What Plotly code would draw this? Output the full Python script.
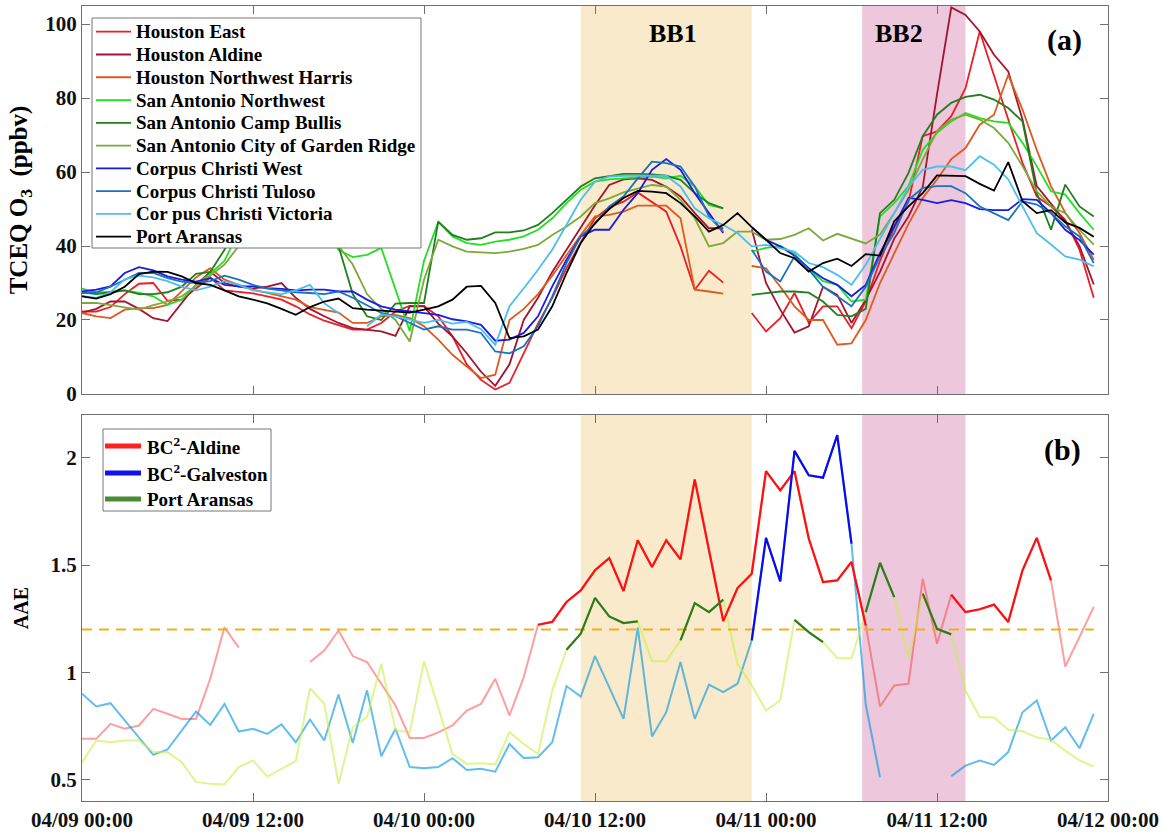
import pandas as pd
import plotly.graph_objects as go

N = None
START = "2015-04-09 00:00"
times = pd.date_range(START, periods=72, freq="h")
x_range = ["2015-04-09 00:00", "2015-04-12 00:00"]

# ---------------- panel (a): TCEQ O3 (ppbv), hourly ----------------
houston_east = [22.3, 22.3, 23.5, 27, 29.8, 30, 25.2, 25.5, 28.5, 31.5,
                28, 27.5, 27.2, 26.4, 25.5, 23.7, 21.5, 19.8, 18.5, 17.4,
                17.4, 19.2, 22.3, 23.8, 23.8, 21, 15.6, 8, 3.8, 1.2,
                3, 11, 19, 26, 34, 41, 47.5, 50.5, 52, 54.5,
                52, 49.3, 39.9, 28.2, 33.3, 30.1, N, 21.9, 16.9, 20.5,
                27.3, 19.2, 23.7, 23.7, 17.8, 25, 36, 45, 52, 69.7,
                71, 75.1, 82.7, 98, 85.9, 74.2, 62.5, 53.4, 50.7, 47.1,
                39, 26]
houston_aldine = [22, 23, 25, 25, 23, 20.5, 19.7, 24.5, 29.5, 33,
                  30, 29, 28.5, 29, 30, 26, 23, 21, 19.2, 17.8,
                  17.4, 16.9, 15.7, 23.7, 23.7, 19, 15.5, 11, 6, 2.2,
                  8, 20, 26, 33, 39, 45, 51, 56.5, 58, 58.3,
                  57.9, 56, 53.4, 48.9, 44.8, 44.8, N, 44.5, 30, 22.8,
                  16.6, 18.3, 29, 26.8, 19.2, 25.5, 33, 42, 48, 56,
                  81, 104.5, 102.5, 98, 91.7, 87.2, 74.2, 56.2, 51.6, 46.7,
                  40, 29.6]
houston_nw_harris = [21.9, 21, 20.5, 22.8, 23.2, 23.2, 24.1, 27.7, 31.5, 34,
                     30.9, 29.5, 28.2, 27.3, 26.4, 25.5, 23.5, 22.8, 22, 19.2,
                     19.2, 21, 21.4, 20.5, 18.3, 14.7, 10.6, 7.4, 4.3, 5.2,
                     20, 23, 27, 32, 37.5, 43, 48, 48.4, 49.3, 50.9,
                     50.9, 50.9, 47.5, 28.2, 27.7, 27.1, N, 34.6, 34, 29,
                     23.7, 20, 20, 13.3, 13.7, 20, 30, 38, 46, 53,
                     58, 63.5, 66.5, 72.8, 75.5, 86.3, 76.9, 66, 56.2, 49,
                     43.5, 36.3]
sa_northwest = [28.5, 27.5, 27.5, 28, 27.3, 26.4, 24.1, 25.5, 29.5, 32.5,
                36, 44, 50, 52, 52, 50, 48, 45, 39, 37,
                37.6, 39.5, 28, 17, 36, 46.5, 42.6, 40.8, 40.3, 41.2,
                41.7, 42.6, 44.4, 47.5, 51.6, 55.2, 57.4, 58, 58.3, 58.6,
                58.8, 58.3, 59, 56.1, 51.1, 50.2, N, 38.5, 39.5, 40,
                38, 33.6, 30.5, 29.5, 25, 25.5, 48, 51.6, 56.2, 66,
                70.6, 73.7, 76, 74.6, 73.7, 73.3, 67.9, 61.6, 54.8, 53.9,
                48.9, 44.4]
sa_camp_bullis = [27.5, 27, 27.5, 28, 27, 27, 27.5, 29, 32.5, 33,
                  39, 46, 50, 52, 52, 50, 48, 45, 40, 27,
                  21, 20, 24.4, 24.6, 24.6, 46.6, 43, 41.7, 42.1, 43.7,
                  43.7, 44.2, 45.7, 48.9, 52.5, 56.1, 58.3, 59, 59.5, 59.5,
                  59.4, 59, 57.9, 54.3, 51.6, 50.2, N, 26.8, 27.3, 27.7,
                  27.7, 27.4, 25, 21.4, 21, 23, 48.9, 52.5, 59.8, 69.7,
                  75.5, 78.7, 80.3, 80.9, 79.6, 77.3, 73.7, 54.3, 44.4, 56.6,
                  50.7, 48]
sa_garden_ridge = [24.6, 24.6, 24, 23.5, 22.8, 24, 25, 26.4, 29.1, 32,
                   35, 40, 45, 48, 48, 46, 44, 42, 40, 35,
                   27, 23, 20, 14.2, 30.9, 41.7, 39.9, 38.5, 38.2, 38.1,
                   38.5, 39.2, 40.3, 43, 45.3, 48, 51.6, 52.9, 54.5, 55.4,
                   56.5, 56.1, 52.5, 47.5, 39.9, 40.8, 43.9, 43.9, 41.7, 41.9,
                   43, 44.8, 41.5, 43.3, 42.1, 40.7, 43.1, 48.9, 55.2, 63.4,
                   71, 74.2, 75.5, 74.2, 71.9, 67.9, 61.6, 54.8, 50.7, 48.9,
                   44.4, 40.4]
cc_west = [27.7, 28.2, 29.1, 32.7, 34.3, 33.4, 31.8, 30.9, 30.4, 31.3,
           29.5, 29.1, 29.1, 28.6, 28.4, 28, 28.2, 28.2, 27.7, 27.7,
           25.5, 23.7, 22.8, 22.3, 21.9, 21.4, 20.2, 19.6, 18.7, 14.4,
           14.7, 16.5, 21, 29.1, 36.3, 42.6, 44.4, 44.4, 49.8, 54.3,
           60.6, 63.5, 60.6, 54.3, 48.9, 43.5, N, 45.1, 41.7, 39.9,
           37.4, 34, 31.3, 29.5, 26.4, 29.5, 38.1, 45.3, 53, 52.5,
           51.6, 52.4, 51.6, 50, 49.7, 49.7, 52.7, 52.5, 48.9, 44.4,
           41.6, 37.7]
cc_tuloso = [27.3, 27.5, 29, 30.9, 32.7, 32.7, 31.3, 30.4, 30, 30.5,
             32, 30.9, 29.5, 28.5, 28, 27.5, 27.3, 27, 27.7, 26,
             24, 21.9, 21, 19.2, 17.4, 18.3, 17.4, 17.4, 16.5, 11.5,
             11, 12.9, 18.3, 26.4, 35.4, 42.6, 46, 50.7, 53.4, 58.3,
             62.8, 62.4, 61.5, 56.1, 48, 43.9, N, 39, 33.1, 30.4,
             37.2, 33.6, 29, 26.4, 23.7, 29, 37.2, 43.5, 52.5, 55.7,
             56.2, 56.2, 54.3, 50.7, 48.9, 47, 52.1, 51.2, 48.9, 45.3,
             42.6, 35.4]
cc_victoria = [26.5, 26, 27.5, 31, 32, 31.5, 30.5, 29, 28, 29,
               30.5, 29.5, 28, 27.5, 27, 28, 29.5, 24.5, 21.9, N,
               18.3, 21.5, 21, 20, 19.2, 20, 19, 19.5, 17.5, 13.3,
               23.7, 28.6, 33.6, 39, 45.7, 52.5, 57.4, 58.8, 59, 59,
               59.2, 59, 56.1, 50.2, 47.5, 45.7, 43.5, 39.9, 40.3, 39.4,
               38.5, 35.4, 34.3, 32.2, 29.5, 34.9, 41.7, 48.9, 56, 60.6,
               61.5, 61.5, 60.5, 64.3, 62, 58, 50.7, 43.5, 40.4, 37.2,
               36.3, 34.5]
port_aransas_o3 = [26.4, 25.8, 27, 29, 32.4, 33.1, 33, 31.8, 30, 29.5,
                   28, 26.4, 25.5, 24.5, 23, 21.4, 23.5, 25, 25.8, 23.2,
                   22.8, 22.6, 22.3, 22, 22.8, 23.7, 25.5, 29, 29.2, 24.6,
                   15.1, 15.6, 17.4, 23.7, 32.7, 40.8, 46.2, 50, 53, 54.9,
                   54.7, 54.3, 51.6, 48, 43.9, 45.7, 48.9, 45.1, 41.7, 38.1,
                   36.7, 33.1, 35.4, 36.6, 34.6, 37.8, 37.4, 46.7, 50.7, 54.3,
                   59.1, 59, 58.9, 56.8, 55, 62.7, 52.1, 48.9, 49.7, 46.4,
                   44.9, 42.5]

o3_names = ["Houston East", "Houston Aldine", "Houston Northwest Harris",
            "San Antonio Northwest", "San Antonio Camp Bullis",
            "San Antonio City of Garden Ridge", "Corpus Christi West",
            "Corpus Christi Tuloso", "Cor pus Christi Victoria", "Port Aransas"]
o3_series = [houston_east, houston_aldine, houston_nw_harris, sa_northwest,
             sa_camp_bullis, sa_garden_ridge, cc_west, cc_tuloso, cc_victoria,
             port_aransas_o3]
o3_colors = ["#EE1C25", "#A2142F", "#DE5A1E", "#22E022", "#1F7F1F",
             "#7DA83C", "#1A1AE6", "#1A72BD", "#4DBEEE", "#000000"]

# ---------------- panel (b): AAE, hourly ----------------
aae_aldine = [0.69, 0.69, 0.76, 0.737, 0.752, 0.83, 0.807, 0.783, 0.783, 0.97,
              1.21, 1.115, N, N, N, N, 1.048, 1.102, 1.195, 1.076,
              1.048, 0.947, 0.846, 0.694, 0.694, 0.72, 0.752, 0.822, 0.853, 0.97,
              0.799, 0.978, 1.222, 1.235, 1.328, 1.382, 1.476, 1.533, 1.379, 1.616,
              1.491, 1.616, 1.527, 1.9, 1.569, 1.239, 1.393, 1.46, 1.938, 1.849,
              1.938, 1.624, 1.421, 1.429, 1.515, 1.219, 0.841, 0.939, 0.947, 1.437,
              1.133, 1.362, 1.281, 1.294, 1.316, 1.235, 1.476, 1.627, 1.429, 1.027,
              1.165, 1.305]
aae_galveston = [0.90, 0.841, 0.856, 0.775, 0.698, 0.615, 0.64, 0.729, 0.817, 0.755,
                 0.853, 0.724, 0.737, 0.713, 0.757, 0.674, 0.78, 0.682, 0.897, 0.671,
                 0.916, 0.609, 0.737, 0.558, 0.553, 0.558, 0.6, 0.545, 0.55, 0.537,
                 0.666, 0.6, 0.604, 0.674, 0.936, 0.887, 1.076, 0.93, 0.783, 1.208,
                 0.701, 0.814, 1.048, 0.783, 0.943, 0.908, 0.947, 1.149, 1.627, 1.424,
                 2.033, 1.919, 1.908, 2.106, 1.6, 0.85, 0.511, N, N, N,
                 N, 0.516, 0.565, 0.589, 0.568, 0.628, 0.814, 0.869, 0.682, 0.744,
                 0.646, 0.806]
aae_port_aransas = [0.58, 0.682, 0.674, 0.682, 0.682, 0.628, 0.628, 0.581, 0.488, 0.48,
                    0.477, 0.558, 0.589, 0.514, 0.55, 0.586, 0.926, 0.853, 0.48, 0.744,
                    0.791, 1.04, 0.73, 0.72, 1.051, 0.84, 0.62, 0.573, 0.576, 0.57,
                    0.721, 0.666, 0.62, 0.915, 1.105, 1.18, 1.347, 1.261, 1.23, 1.238,
                    1.052, 1.052, 1.149, 1.323, 1.281, 1.339, 1.04, 0.94, 0.822, 0.869,
                    1.245, 1.188, 1.141, 1.066, 1.066, 1.281, 1.511, 1.351, 1.063, 1.367,
                    1.203, 1.177, 0.915, 0.791, 0.791, 0.732, 0.725, 0.697, 0.685, 0.635,
                    0.589, 0.56]
# hour-index ranges (inclusive) drawn in the highlighted colour
aldine_bright = [(32, 55), (61, 68)]
galveston_bright = [(47, 54)]
port_aransas_bright = [(34, 39), (42, 45), (50, 52), (55, 57), (59, 61)]

aae_names = ["BC<sup>2</sup>-Aldine", "BC<sup>2</sup>-Galveston", "Port Aransas"]
aae_series = [aae_aldine, aae_galveston, aae_port_aransas]
aae_bright = [aldine_bright, galveston_bright, port_aransas_bright]
aae_dim_colors = ["rgba(255,40,40,0.45)", "rgba(0,150,225,0.62)", "rgba(200,238,70,0.6)"]
aae_bright_colors = ["#FF1010", "#0A0AF0", "#2E7A1E"]
aae_legend_colors = ["#FF2020", "#1010F0", "#4C8A34"]
aae_threshold = 1.2

bb_periods = [("2015-04-10 11:00", "2015-04-10 23:00"),
              ("2015-04-11 06:45", "2015-04-11 14:00")]
bb_labels = ["BB1", "BB2"]
bb_label_times = ["2015-04-10 17:30", "2015-04-11 09:20"]
bb_colors = ["#F8EACB", "#EDC8DD"]

FONT = "Liberation Serif, Times New Roman, serif"
AXC = "#707070"

# figure geometry (pixels)
W, H = 1163, 832
ML, MR, MT, MB = 82, 55, 6, 31
PW, PH = W - ML - MR, H - MT - MB


def pxx(px):
    return (px - ML) / PW


def pxy(py):
    return (H - MB - py) / PH


fig = go.Figure()

for name, vals, col in zip(o3_names, o3_series, o3_colors):
    fig.add_trace(go.Scatter(x=times, y=vals, mode="lines", name=name,
                             line=dict(color=col, width=1.8),
                             xaxis="x", yaxis="y", showlegend=False,
                             connectgaps=False, hoverinfo="skip"))

# dim (full) AAE lines
for vals, col in zip(aae_series, aae_dim_colors):
    fig.add_trace(go.Scatter(x=times, y=vals, mode="lines", showlegend=False,
                             line=dict(color=col, width=2),
                             xaxis="x2", yaxis="y2", connectgaps=False,
                             hoverinfo="skip"))
# threshold
fig.add_trace(go.Scatter(x=[times[0], times[-1]], y=[aae_threshold, aae_threshold],
                         mode="lines", showlegend=False,
                         line=dict(color="#EDB120", width=2, dash="10px,7px"),
                         xaxis="x2", yaxis="y2", hoverinfo="skip"))
# highlighted AAE segments
for vals, ranges, col in zip(aae_series, aae_bright, aae_bright_colors):
    masked = [v if any(a <= i <= b for a, b in ranges) else None
              for i, v in enumerate(vals)]
    fig.add_trace(go.Scatter(x=times, y=masked, mode="lines", showlegend=False,
                             line=dict(color=col, width=2.2),
                             xaxis="x2", yaxis="y2", connectgaps=False,
                             hoverinfo="skip"))

shapes = []
for (t0, t1), col in zip(bb_periods, bb_colors):
    for xr, yr in (("x", "y domain"), ("x2", "y2 domain")):
        shapes.append(dict(type="rect", xref=xr, yref=yr, x0=t0, x1=t1,
                           y0=0, y1=1, fillcolor=col, line=dict(width=0),
                           layer="below"))

annotations = []
for lab, t in zip(bb_labels, bb_label_times):
    annotations.append(dict(text="<b>%s</b>" % lab, x=t, xref="x", y=0.93,
                            yref="y domain", xanchor="center",
                            yanchor="middle", showarrow=False,
                            font=dict(family=FONT, size=26, color="black")))
annotations.append(dict(text="<b>(a)</b>", x=0.958, xref="x domain", y=0.912,
                        yref="y domain", xanchor="center", yanchor="middle",
                        showarrow=False,
                        font=dict(family=FONT, size=30, color="black")))
annotations.append(dict(text="<b>(b)</b>", x=0.956, xref="x2 domain", y=0.909,
                        yref="y2 domain", xanchor="center", yanchor="middle",
                        showarrow=False,
                        font=dict(family=FONT, size=30, color="black")))


def add_legend(box, names, colors, line_x, text_x, rows, lw, size):
    x0, y0, x1, y1 = box
    shapes.append(dict(type="rect", xref="paper", yref="paper",
                       x0=pxx(x0), x1=pxx(x1), y0=pxy(y0), y1=pxy(y1),
                       fillcolor="white", line=dict(color="#777", width=1),
                       layer="above"))
    for name, col, ry in zip(names, colors, rows):
        shapes.append(dict(type="line", xref="paper", yref="paper",
                           x0=pxx(line_x[0]), x1=pxx(line_x[1]),
                           y0=pxy(ry), y1=pxy(ry),
                           line=dict(color=col, width=lw), layer="above"))
        annotations.append(dict(text="<b>%s</b>" % name, xref="paper",
                                yref="paper", x=pxx(text_x), y=pxy(ry),
                                xanchor="left", yanchor="middle",
                                showarrow=False,
                                font=dict(family=FONT, size=size,
                                          color="black")))


add_legend((92, 18, 421, 248), o3_names, o3_colors, (96, 131), 134,
           [31.7 + 22.78 * i for i in range(len(o3_names))], 1.8, 19)
add_legend((103, 429, 271, 511), aae_names, aae_legend_colors, (105, 141), 145,
           [446, 473, 499], 5, 19)

tickfont = dict(family=FONT, size=21, color="#111", weight="bold")
common_x = dict(type="date", range=x_range, tick0=x_range[0],
                dtick=12 * 3600 * 1000, ticks="inside", ticklen=8,
                tickcolor=AXC, showline=True, linecolor=AXC, linewidth=1.2,
                mirror="ticks", showgrid=False, zeroline=False,
                automargin=False)
common_y = dict(ticks="inside", ticklen=8, tickcolor=AXC, showline=True,
                linecolor=AXC, linewidth=1.2, mirror="ticks", showgrid=False,
                zeroline=False, tickfont=tickfont, automargin=False)

fig.update_layout(
    width=W, height=H,
    margin=dict(l=ML, r=MR, t=MT, b=MB, autoexpand=False),
    paper_bgcolor="white", plot_bgcolor="white",
    font=dict(family=FONT, color="black"),
    showlegend=False,
    xaxis=dict(domain=[0, 1], anchor="y", showticklabels=False, **common_x),
    xaxis2=dict(domain=[0, 1], anchor="y2", tickformat="%m/%d %H:%M",
                tickfont=tickfont, **common_x),
    yaxis=dict(domain=[0.512, 1], anchor="x", range=[0, 104.9], dtick=20,
               title=dict(text="<b>TCEQ O<sub>3</sub>&nbsp; (ppbv)</b>",
                          font=dict(family=FONT, size=25), standoff=10),
               **common_y),
    yaxis2=dict(domain=[0, 0.4855], anchor="x2", range=[0.4, 2.2],
                tickvals=[0.5, 1, 1.5, 2], ticktext=["0.5", "1", "1.5", "2"],
                title=dict(text="<b>AAE</b>", font=dict(family=FONT, size=20),
                           standoff=16),
                **common_y),
    shapes=shapes, annotations=annotations,
)

fig.write_html("out.html",
               config={"displayModeBar": False},
               post_script="document.body.style.margin='0';"
                           "document.body.style.overflow='hidden';")
